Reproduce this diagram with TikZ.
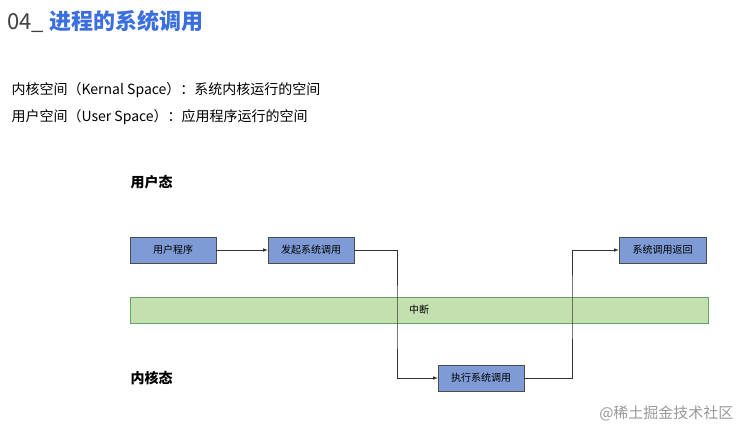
\documentclass[tikz,border=0pt]{standalone}
\usepackage{fontspec}
\setmainfont{Noto Sans CJK SC}
\begin{document}
\begin{tikzpicture}[x=1pt,y=-1pt,
  bx/.style={draw=black!70,fill=boxblue,minimum width=86pt,minimum height=26pt,inner sep=0pt,font=\fontsize{10}{11}\selectfont},
  ar/.style={->,>=latex,draw=black!80,line width=0.6pt}]
\definecolor{boxblue}{HTML}{7E9BD6}
\definecolor{barg}{HTML}{C4E0AE}
\definecolor{ttl}{HTML}{3B6FE0}
\useasboundingbox[fill=white] (0,0) rectangle (749,439);
\node[anchor=west,font=\fontsize{22}{24}\selectfont] (t) at (4,21) {\textcolor{black!75}{04\_} \textcolor{ttl}{\bfseries 进程的系统调用}};
\node[anchor=west,font=\fontsize{14}{16}\selectfont] (l1) at (8,90) {内核空间（Kernal Space）：系统内核运行的空间};
\node[anchor=west,font=\fontsize{14}{16}\selectfont] (l2) at (8,117) {用户空间（User Space）：应用程序运行的空间};
\node[anchor=west,font=\fontsize{14}{16}\selectfont\bfseries] (u) at (127,182) {用户态};
\node[anchor=west,font=\fontsize{14}{16}\selectfont\bfseries] (k) at (127,378) {内核态};
\node[bx] (a) at (173,250) {用户程序};
\node[bx] (b) at (311,250) {发起系统调用};
\node[bx,minimum width=87pt] (r) at (662.5,250) {系统调用返回};
\node[bx] (e) at (481,378) {执行系统调用};
\node[draw=green!40!black!60,fill=barg,minimum width=578pt,minimum height=26pt,inner sep=0pt,font=\fontsize{10}{11}\selectfont] (z) at (419,310) {中断};
\draw[ar] (a) -- (b);
\draw[ar] (b.east) -| (397,320) |- (e.west);
\draw[ar] (e.east) -| (572,300) |- (r.west);
\node[anchor=east,text=black!40,font=\fontsize{15}{17}\selectfont] (w) at (737,413) {@稀土掘金技术社区};
\end{tikzpicture}
\end{document}
